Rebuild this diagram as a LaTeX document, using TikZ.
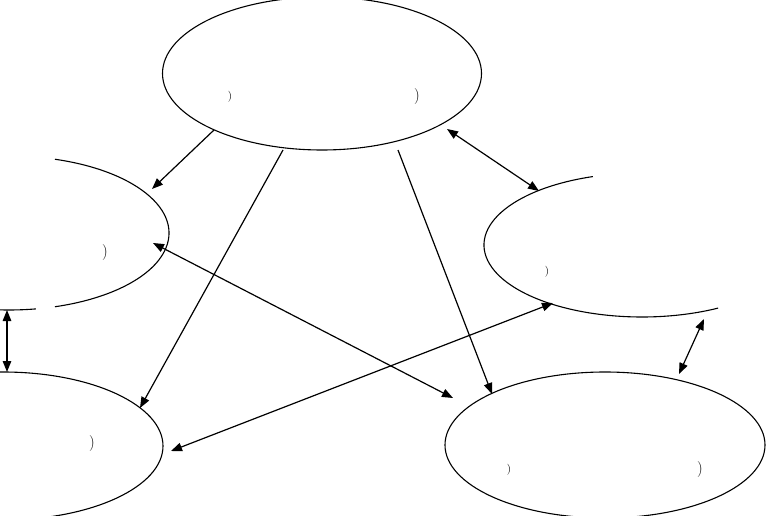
\documentclass[tikz,border=0pt]{standalone}
\usetikzlibrary{shapes.geometric,arrows.meta,calc}
\begin{document}
\begin{tikzpicture}[x=1pt,y=1pt,
  ell/.style={ellipse,inner sep=0pt,outer sep=0pt},
  edge/.style={draw,line width=1.1pt},
  conn/.style={line width=1.2pt,-{Triangle[length=11pt,width=8.5pt]}},
  dconn/.style={line width=1.2pt,{Triangle[length=11pt,width=8.5pt]}-{Triangle[length=11pt,width=8.5pt]}},
  bigtxt/.style={font=\fontsize{16}{16}\selectfont,inner sep=0pt},
  smalltxt/.style={font=\fontsize{11}{11}\selectfont,inner sep=0pt}]
\useasboundingbox (0,0) rectangle (766,515);
\clip (0,0) rectangle (766,515);
% ellipses
\node[ell,edge,minimum width=319pt,minimum height=153pt] (A) at (322,441.5) {};
\node[ell,minimum width=320pt,minimum height=154pt] (B) at (9,282) {};
\node[ell,edge,minimum width=320pt,minimum height=148pt] (C) at (3,69) {};
\node[ell,minimum width=316pt,minimum height=144pt] (D) at (642,270) {};
\node[ell,edge,minimum width=320pt,minimum height=146pt] (E) at (605,70) {};
% visible arcs of B and D
\draw[line width=1.1pt] ($(B)+(73.3:160pt and 77pt)$) arc[start angle=73.3,end angle=-73.3,x radius=160pt,y radius=77pt];
\draw[line width=1.1pt] ($(B)+(-80.3:160pt and 77pt)$) arc[start angle=-80.3,end angle=-93.5,x radius=160pt,y radius=77pt];
\draw[line width=1.1pt] ($(D)+(108.1:158pt and 72pt)$) arc[start angle=108.1,end angle=298.8,x radius=158pt,y radius=72pt];
% texts
\node[smalltxt] (ta1) at ($(A)+(-92,-23.5)$) {)};
\node[bigtxt] (ta2) at ($(A)+(95,-23.5)$) {)};
\node[bigtxt] (tb) at ($(B)+(96,-20)$) {)};
\node[smalltxt] (td) at ($(D)+(-95,-27)$) {)};
\node[bigtxt] (tc) at ($(C)+(89,2)$) {)};
\node[smalltxt] (te1) at ($(E)+(-96,-25)$) {)};
\node[bigtxt] (te2) at ($(E)+(95,-25)$) {)};
% connectors
\draw[conn] ($(A)+(-108,-56.5)$) -- ($(B)+(143,44)$);
\draw[conn] ($(A)+(-39,-76.5)$) -- ($(C)+(137,38)$);
\draw[conn] ($(A)+(76,-76.5)$) -- ($(E)+(-113,51)$);
\draw[dconn] ($(A)+(125,-55.5)$) -- ($(D)+(-103,54)$);
\draw[dconn] ($(B)+(144,-10)$) -- ($(E)+(-152,47)$);
\draw[dconn] ($(C)+(168,-5)$) -- ($(D)+(-89,-58)$);
\draw[dconn] ($(B)+(-2,-77)$) -- ($(C)+(4,74)$);
\draw[dconn] ($(D)+(62,-74)$) -- ($(E)+(74,71)$);
\end{tikzpicture}
\end{document}
